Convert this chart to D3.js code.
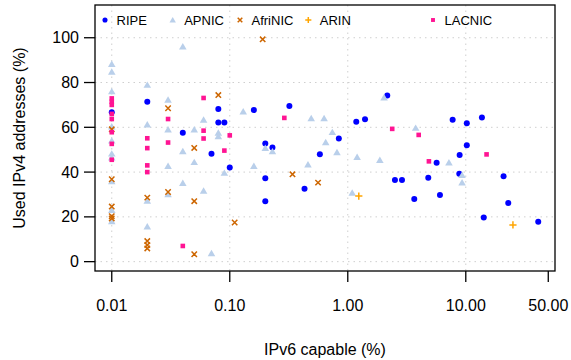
<!DOCTYPE html>
<html>
<head>
<meta charset="utf-8">
<script src="https://cdn.jsdelivr.net/npm/d3@7"></script>
<style>
  body { margin: 0; background: #fff; }
  text { font-family: "Liberation Sans", Arial, Helvetica, sans-serif; }
</style>
</head>
<body>
<div id="chart"></div>
<script>
//////IPv6 capable vs used IPv4 addresses, one point per country
///// [ipv6 %, used ipv4 %]

const ripe = [[0.01,66.7],[0.02,71.4],[0.04,57.6],[0.07,48.2],[0.08,68.2],[0.08,62.1],[0.09,62.1],[0.10,42],
  [0.16,67.7],[0.32,69.5],[0.20,52.8],[0.23,51],[0.58,48],[0.84,55],[1.18,62.5],[1.4,63.6],[2.16,74.2],
  [0.20,37.3],[0.43,32.6],[0.20,27],[2.51,36.5],[2.88,36.5],[3.66,28],[4.81,37.5],[5.66,44.2],[6.04,29.8],
  [7.74,63.4],[8.81,39.3],[8.87,47.6],[10.2,52],[10.2,61.8],[13.7,64.4],[14.2,19.7],[20.9,38.1],[22.9,26.2],[41.1,17.8]];

const apnic = [[0.01,88.2],[0.01,84.8],[0.01,76],[0.01,60.3],[0.01,54],[0.01,48.2],[0.01,46.5],[0.01,35.9],
  [0.01,23],[0.01,18],[0.02,78.9],[0.02,61.2],[0.02,27.1],[0.02,15.6],[0.03,72.3],[0.03,59],[0.03,42.7],
  [0.03,30.1],[0.04,96],[0.04,49.3],[0.04,35.1],[0.05,59],[0.05,44.4],[0.06,63.3],[0.06,31.6],[0.07,3.7],
  [0.08,57.5],[0.08,56],[0.09,39.6],[0.13,67],[0.16,42.7],[0.20,50.7],[0.23,49.2],[0.46,43.3],[0.49,64],
  [0.63,64],[0.65,53.3],[0.74,57.8],[0.81,48.8],[1.09,30.7],[1.2,46.7],[1.87,45.3],[2.03,73.3],[3.76,59.7],
  [7.2,44.2],[9.3,38.7],[9.3,35.3]];

const afrinic = [[0.01,59.1],[0.01,36.8],[0.01,24.6],[0.01,20.3],[0.01,19.3],[0.02,28.6],[0.02,9.2],[0.02,7.4],
  [0.02,5.9],[0.03,68.5],[0.03,31.1],[0.05,50.8],[0.05,27],[0.05,3.3],[0.08,74.4],[0.11,17.5],[0.19,99.3],
  [0.34,39],[0.56,35.3]];

const arin = [[1.24,29.3],[25.1,16.4]];

const lacnic = [[0.01,72.9],[0.01,71.4],[0.01,70],[0.01,66],[0.01,63.7],[0.01,57.8],[0.01,52.6],[0.01,45.5],
  [0.02,55.1],[0.02,50.7],[0.02,43],[0.02,40],[0.03,63.7],[0.03,53.2],[0.04,7],[0.06,73.1],[0.06,58.5],
  [0.06,55],[0.09,49.6],[0.10,56.4],[0.29,64.2],[2.38,59.3],[3.99,56.6],[4.87,44.8],[15,47.9]];

const registries = ["RIPE", "APNIC", "AfriNIC", "ARIN", "LACNIC"];
const xTicks = [0.01, 0.1, 1, 10, 50];
const yTicks = [0, 20, 40, 60, 80, 100];

const series = [
  {name: "RIPE", pts: ripe, color: "#0000ff", shape: "circle"},
  {name: "APNIC", pts: apnic, color: "#b9cfea", shape: "triangle"},
  {name: "AfriNIC", pts: afrinic, color: "#cd6600", shape: "cross"},
  {name: "ARIN", pts: arin, color: "#ffa500", shape: "plus"},
  {name: "LACNIC", pts: lacnic, color: "#ff1493", shape: "square"}
];

var W = 571, H = 360;
var box = {left: 95, right: 555, top: 5, bottom: 271};

var svg = d3.select("#chart").append("svg")
    .attr("width", W)
    .attr("height", H);

var x = d3.scaleLog()
    .domain([Math.pow(10, -2.142), Math.pow(10, 1.756)])
    .range([box.left, box.right]);

var y = d3.scaleLinear()
    .domain([-4.4, 114.4])
    .range([box.bottom + 0.5, box.top + 0.5]);

////dotted grid (no vertical line at 50)
var grid = svg.append("g").attr("class", "grid");
grid.selectAll("line.v")
    .data(xTicks.filter(d => d < 50))
    .enter().append("line")
    .attr("x1", d => x(d)).attr("x2", d => x(d))
    .attr("y1", box.top).attr("y2", box.bottom)
    .style("stroke", "#cfcfcf").style("stroke-dasharray", "1.5,4");
grid.selectAll("line.h")
    .data(yTicks)
    .enter().append("line")
    .attr("y1", d => y(d)).attr("y2", d => y(d))
    .attr("x1", box.left).attr("x2", box.right)
    .style("stroke", "#cfcfcf").style("stroke-dasharray", "1.5,4");

////symbol drawing
function drawMark(sel, shape, color, scale) {
  scale = scale || 1;
  if (shape == "circle") {
    sel.append("circle").attr("r", 3 * scale).style("fill", color);
  } else if (shape == "triangle") {
    var s = 3.6 * scale;
    sel.append("path").attr("d", `M0,${-s}L${s*1.05},${s*0.8}L${-s*1.05},${s*0.8}Z`).style("fill", color);
  } else if (shape == "square") {
    var q = 2.3 * scale;
    sel.append("rect").attr("x", -q).attr("y", -q).attr("width", 2*q).attr("height", 2*q).style("fill", color);
  } else if (shape == "cross") {
    var c = 2.7 * scale;
    sel.append("path").attr("d", `M${-c},${-c}L${c},${c}M${-c},${c}L${c},${-c}`)
      .style("stroke", color).style("stroke-width", 1.5).style("fill", "none");
  } else {
    var p = 3.6 * scale;
    sel.append("path").attr("d", `M${-p},0L${p},0M0,${-p}L0,${p}`)
      .style("stroke", color).style("stroke-width", 1.5).style("fill", "none");
  }
}

////points
series.forEach(function(s) {
  var g = svg.append("g").attr("class", "series-" + s.name);
  g.selectAll("g")
    .data(s.pts)
    .enter().append("g")
    .attr("transform", d => `translate(${x(d[0])},${y(d[1])})`)
    .each(function() { drawMark(d3.select(this), s.shape, s.color); });
});

////box
svg.append("rect")
    .attr("x", box.left).attr("y", box.top)
    .attr("width", box.right - box.left).attr("height", box.bottom - box.top)
    .style("fill", "none").style("stroke", "#000").style("stroke-width", 1.3);

////axes
var xAxis = svg.append("g");
xAxis.selectAll("line")
    .data(xTicks).enter().append("line")
    .attr("x1", d => x(d)).attr("x2", d => x(d))
    .attr("y1", box.bottom).attr("y2", box.bottom + 11)
    .style("stroke", "#000").style("stroke-width", 1.3);
xAxis.selectAll("text")
    .data(xTicks).enter().append("text")
    .attr("x", d => x(d)).attr("y", 311)
    .attr("text-anchor", "middle")
    .style("font-size", "16px")
    .text(d => d3.format(".2f")(d));

var yAxis = svg.append("g");
yAxis.selectAll("line")
    .data(yTicks).enter().append("line")
    .attr("y1", d => y(d)).attr("y2", d => y(d))
    .attr("x1", box.left - 11).attr("x2", box.left)
    .style("stroke", "#000").style("stroke-width", 1.3);
yAxis.selectAll("text")
    .data(yTicks).enter().append("text")
    .attr("x", 79).attr("y", d => y(d) + 5.5)
    .attr("text-anchor", "end")
    .style("font-size", "16px")
    .text(d => d);

////axis titles
svg.append("text")
    .attr("x", (box.left + box.right) / 2).attr("y", 355)
    .attr("text-anchor", "middle")
    .style("font-size", "16px")
    .text("IPv6 capable (%)");
svg.append("text")
    .attr("transform", `translate(25,${(box.top + box.bottom) / 2}) rotate(-90)`)
    .attr("text-anchor", "middle")
    .style("font-size", "16px")
    .text("Used IPv4 addresses (%)");

////legend
var legX = [105, 172.7, 240, 308.3, 433];
var legend = svg.append("g").selectAll("g")
    .data(series).enter().append("g")
    .attr("transform", (d, i) => `translate(${legX[i]},20)`);
legend.each(function(d) { drawMark(d3.select(this), d.shape, d.color, 0.85); });
legend.append("text")
    .attr("x", 11.5).attr("y", 4.7)
    .style("font-size", "13px")
    .text((d, i) => registries[i]);
</script>
</body>
</html>
